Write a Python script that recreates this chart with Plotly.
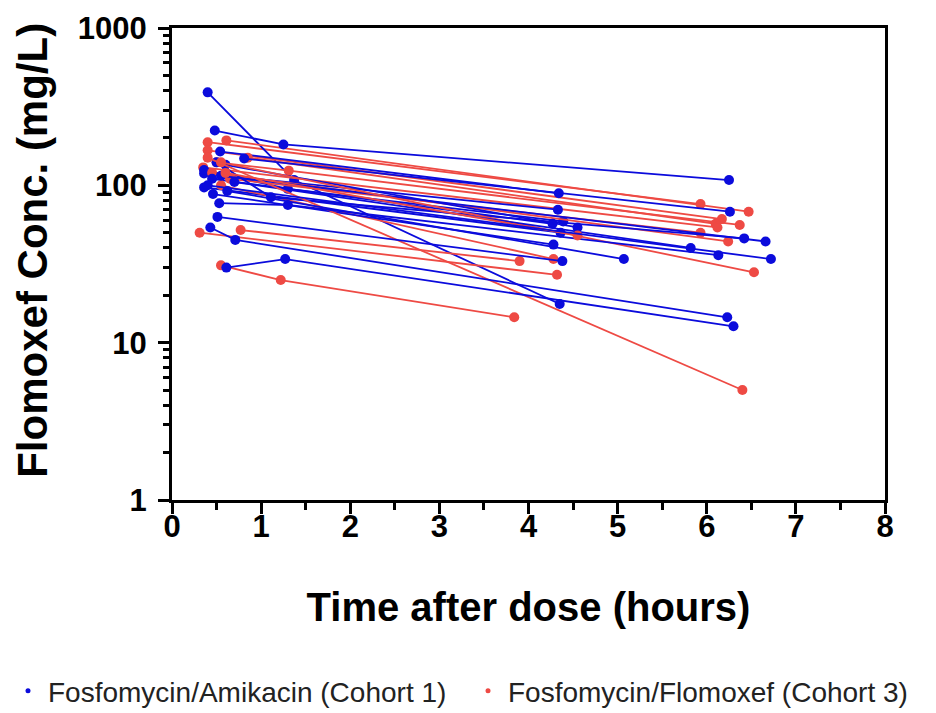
import plotly.graph_objects as go

# Cohort 1: Fosfomycin/Amikacin (blue) - each patient: times, concentrations
cohort1_times = [
    [0.40, 1.37, 4.35], [0.48, 1.25, 6.25], [0.54, 4.34], [0.81, 6.26],
    [0.36, 4.33], [0.36, 1.30, 4.39], [0.45, 4.27], [0.60, 4.55],
    [0.36, 4.36], [0.50, 1.11, 6.42], [0.55, 6.66], [0.46, 4.28],
    [0.70, 5.82], [0.53, 1.30, 6.13], [0.40, 6.72], [0.51, 4.38],
    [0.62, 5.07], [0.43, 0.71, 6.23], [0.61, 1.27, 6.30],
]
cohort1_conc = [
    [390, 108, 17.6], [223, 182, 108], [164, 89], [148, 68],
    [119, 70], [125, 95, 59], [110, 57], [135, 54],
    [97, 50], [140, 84, 46], [115, 44], [88, 42],
    [105, 40], [77, 75, 36], [100, 34], [63, 33],
    [92, 34], [54, 45, 14.5], [30, 34, 12.7],
]

# Cohort 3: Fosfomycin/Flomoxef (red)
cohort3_times = [
    [0.40, 5.93], [0.61, 6.47], [0.40, 6.17], [0.85, 6.10],
    [0.35, 6.12], [0.50, 1.31, 6.37], [0.45, 6.24], [0.65, 5.93],
    [0.77, 3.90], [0.55, 4.28], [0.31, 4.32], [0.55, 6.53],
    [0.55, 1.22, 3.84], [0.40, 6.40], [0.60, 4.55],
]
cohort3_conc = [
    [188, 76], [193, 68], [167, 61], [150, 57],
    [130, 54], [140, 124, 56], [120, 44], [110, 50],
    [52, 33], [100, 34], [50, 27], [140, 28],
    [31, 25, 14.5], [150, 5.0], [120, 48],
]

BLUE = "#0b0bdc"
RED = "#ee4a44"
name1 = "Fosfomycin/Amikacin (Cohort 1)"
name3 = "Fosfomycin/Flomoxef (Cohort 3)"
y_title = "Flomoxef Conc. (mg/L)"
x_title = "Time after dose (hours)"

fig = go.Figure()

n = max(len(cohort1_times), len(cohort3_times))
for i in range(n):
    if i < len(cohort3_times):
        fig.add_trace(go.Scatter(
            x=cohort3_times[i], y=cohort3_conc[i], mode="lines+markers",
            line=dict(color=RED, width=1.8), marker=dict(color=RED, size=10),
            showlegend=False, hoverinfo="x+y"))
    if i < len(cohort1_times):
        fig.add_trace(go.Scatter(
            x=cohort1_times[i], y=cohort1_conc[i], mode="lines+markers",
            line=dict(color=BLUE, width=1.8), marker=dict(color=BLUE, size=10),
            showlegend=False, hoverinfo="x+y"))

# legend-only entries (dots), one legend each
fig.add_trace(go.Scatter(x=[None], y=[None], mode="markers", name=name1,
                         marker=dict(color=BLUE, size=5), legend="legend"))
fig.add_trace(go.Scatter(x=[None], y=[None], mode="markers", name=name3,
                         marker=dict(color=RED, size=5), legend="legend2"))

FONT = "Liberation Sans, Arial, sans-serif"
tick_font = dict(family=FONT, size=31, color="black")
leg_font = dict(family=FONT, size=28, color="#222222")

fig.update_layout(
    width=928, height=705,
    margin=dict(l=164, r=51, t=20, b=213, autoexpand=False),
    paper_bgcolor="white", plot_bgcolor="white",
    legend=dict(orientation="h", xref="container", yref="container",
                x=0.0, xanchor="left", y=0.031, yanchor="middle",
                font=leg_font, itemwidth=30, bgcolor="rgba(0,0,0,0)"),
    legend2=dict(orientation="h", xref="container", yref="container",
                 x=0.4957, xanchor="left", y=0.031, yanchor="middle",
                 font=leg_font, itemwidth=30, bgcolor="rgba(0,0,0,0)"),
    xaxis=dict(
        range=[0, 8], tickmode="array", tickvals=list(range(9)),
        ticktext=["<b>%d</b>" % v for v in range(9)],
        ticks="outside", ticklen=11, tickwidth=3, tickcolor="black",
        minor=dict(tickvals=[0.5 + k for k in range(8)], ticks="outside", ticklen=7,
                   tickwidth=3, tickcolor="black"),
        showline=True, linewidth=3, linecolor="black", mirror=True,
        showgrid=False, zeroline=False, tickfont=tick_font, automargin=False,
        ticklabelstandoff=-14,
        title=dict(text="<b>%s</b>" % x_title,
                   font=dict(family=FONT, size=40, color="black"), standoff=50),
    ),
    yaxis=dict(
        type="log", range=[0, 3], tickmode="array", tickvals=[1, 10, 100, 1000],
        ticktext=["<b>1</b>", "<b>10</b>", "<b>100</b>", "<b>1000</b>"],
        ticks="outside", ticklen=11, tickwidth=3, tickcolor="black",
        minor=dict(tickvals=[m * d for d in (1, 10, 100) for m in range(2, 10)],
                   ticks="outside", ticklen=6, tickwidth=2.5, tickcolor="black"),
        showline=True, linewidth=3, linecolor="black", mirror=True,
        showgrid=False, zeroline=False, tickfont=tick_font, automargin=False,
        ticklabelstandoff=5,
    ),
    annotations=[dict(
        text="<b>%s</b>" % y_title, textangle=-90, showarrow=False,
        xref="paper", yref="paper", x=-0.195, y=0.53, xanchor="center", yanchor="middle",
        font=dict(family=FONT, size=42, color="black"))],
)

fig.write_html("out.html")
